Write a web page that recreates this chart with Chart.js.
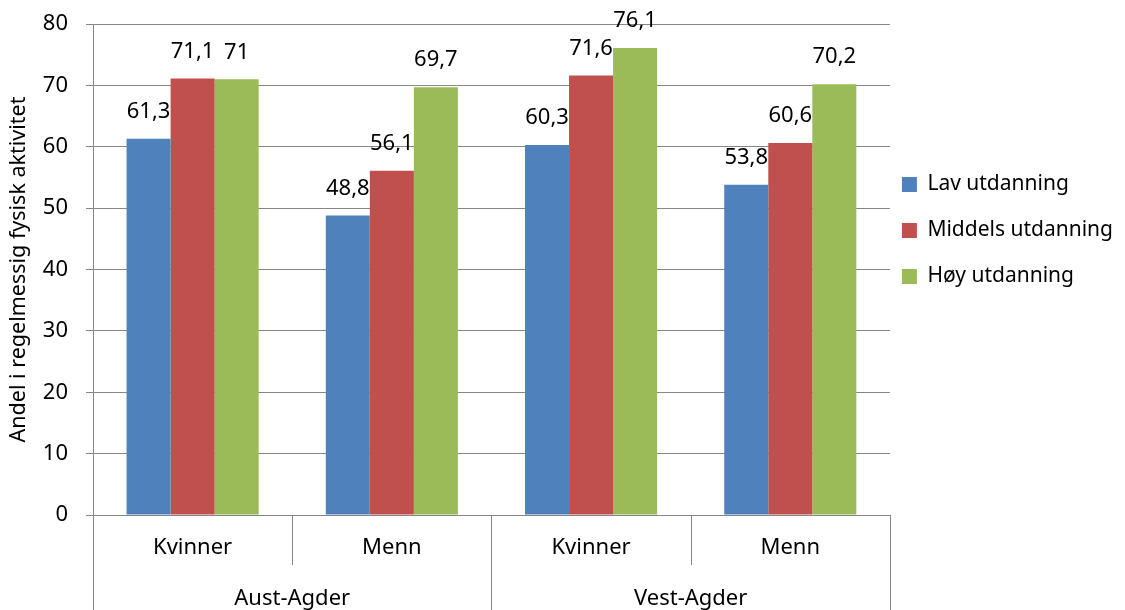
<!DOCTYPE html>
<html>
<head>
<meta charset="utf-8">
<script src="https://cdn.jsdelivr.net/npm/chart.js@4/dist/chart.umd.min.js"></script>
<style>
  html, body { margin: 0; padding: 0; background: #fff; }
  #wrap { width: 1125px; height: 610px; }
</style>
</head>
<body>
<div id="wrap"><canvas id="myChart" width="1125" height="610"></canvas></div>
<script>
const categories = ['Kvinner', 'Menn', 'Kvinner', 'Menn'];
const groups = ['Aust-Agder', 'Vest-Agder'];
const lav = [61.3, 48.8, 60.3, 53.8];
const middels = [71.1, 56.1, 71.6, 60.6];
const hoy = [71, 69.7, 76.1, 70.2];
const yTicks = [0, 10, 20, 30, 40, 50, 60, 70, 80];

const gridColor = '#868686';
Chart.defaults.font.family = "'Noto Sans', sans-serif";
Chart.defaults.font.size = 22;
Chart.defaults.color = '#000';

// value labels above the bars, Norwegian decimal comma
const barLabels = {
    id: 'barLabels',
    afterDatasetsDraw(chart) {
        const ctx = chart.ctx;
        ctx.save();
        ctx.font = "22px 'Noto Sans', sans-serif";
        ctx.fillStyle = '#000';
        ctx.textAlign = 'center';
        ctx.textBaseline = 'middle';
        chart.data.datasets.forEach((ds, i) => {
            chart.getDatasetMeta(i).data.forEach((bar, j) => {
                const txt = String(ds.data[j]).replace('.', ',');
                ctx.fillText(txt, bar.x, bar.y - 27);
            });
        });
        ctx.restore();
    }
};

// two-level category axis: separators and group names
const groupAxis = {
    id: 'groupAxis',
    afterDraw(chart) {
        const x = chart.scales.x;
        const ctx = chart.ctx;
        const step = x.width / categories.length;
        const bottom = chart.chartArea.bottom;
        ctx.save();
        ctx.strokeStyle = gridColor;
        ctx.lineWidth = 1;
        for (let i = 0; i <= categories.length; i++) {
            const px = Math.round(x.left + i * step) + 0.5;
            const end = i % 2 === 0 ? chart.height : bottom + 50;
            ctx.beginPath();
            ctx.moveTo(px, bottom);
            ctx.lineTo(px, end);
            ctx.stroke();
        }
        ctx.font = "22px 'Noto Sans', sans-serif";
        ctx.fillStyle = '#000';
        ctx.textAlign = 'center';
        ctx.textBaseline = 'middle';
        groups.forEach((g, k) => {
            const cx = x.left + (k * 2 + 1) * step;
            ctx.fillText(g, cx, bottom + 84);
        });
        ctx.restore();
    }
};

const ctx1 = document.getElementById('myChart').getContext('2d');
const chartData = {
    labels: categories,
    datasets: [
        { label: 'Lav utdanning', data: lav, backgroundColor: '#4F81BD' },
        { label: 'Middels utdanning', data: middels, backgroundColor: '#C0504D' },
        { label: 'Høy utdanning', data: hoy, backgroundColor: '#9BBB59' }
    ]
};
const config = {
    type: 'bar',
    data: chartData,
    options: {
        responsive: false,
        animation: false,
        layout: { padding: { top: 0, right: 2, left: 0, bottom: 0 } },
        datasets: {
            bar: { categoryPercentage: 0.663, barPercentage: 1, borderWidth: 0 }
        },
        plugins: {
            tooltip: { enabled: false },
            legend: {
                position: 'right',
                align: 'start',
                title: { display: true, text: ' ', font: { size: 10 }, padding: { top: 150, bottom: 0 } },
                labels: {
                    boxWidth: 15,
                    boxHeight: 15,
                    padding: 12,
                    font: { size: 21, lineHeight: '34px' },
                    color: '#000',
                    // one-line arrays so each row takes the font's line height
                    generateLabels(chart) {
                        return Chart.defaults.plugins.legend.labels.generateLabels(chart)
                            .map(item => Object.assign(item, { text: [item.text] }));
                    }
                }
            }
        },
        scales: {
            x: {
                grid: { display: false, drawTicks: false },
                border: { display: false },
                ticks: { padding: 20, font: { size: 22 }, color: '#000', maxRotation: 0 },
                afterFit(scale) { scale.height = 95; }
            },
            y: {
                min: 0,
                max: 80,
                afterBuildTicks(scale) { scale.ticks = yTicks.map(v => ({ value: v })); },
                grid: { color: gridColor, tickLength: 7, tickColor: gridColor },
                border: { display: true, color: gridColor },
                ticks: { padding: 18, font: { size: 22 }, color: '#000' },
                title: {
                    display: true,
                    text: 'Andel i regelmessig fysisk aktivitet',
                    font: { size: 21.5 },
                    color: '#000',
                    padding: { top: 6, bottom: 0 }
                },
                afterFit(scale) {
                    scale.width = 93;
                    scale.paddingTop = 24;
                }
            }
        }
    },
    plugins: [barLabels, groupAxis]
};
const myChart = new Chart(ctx1, config);
</script>
</body>
</html>
